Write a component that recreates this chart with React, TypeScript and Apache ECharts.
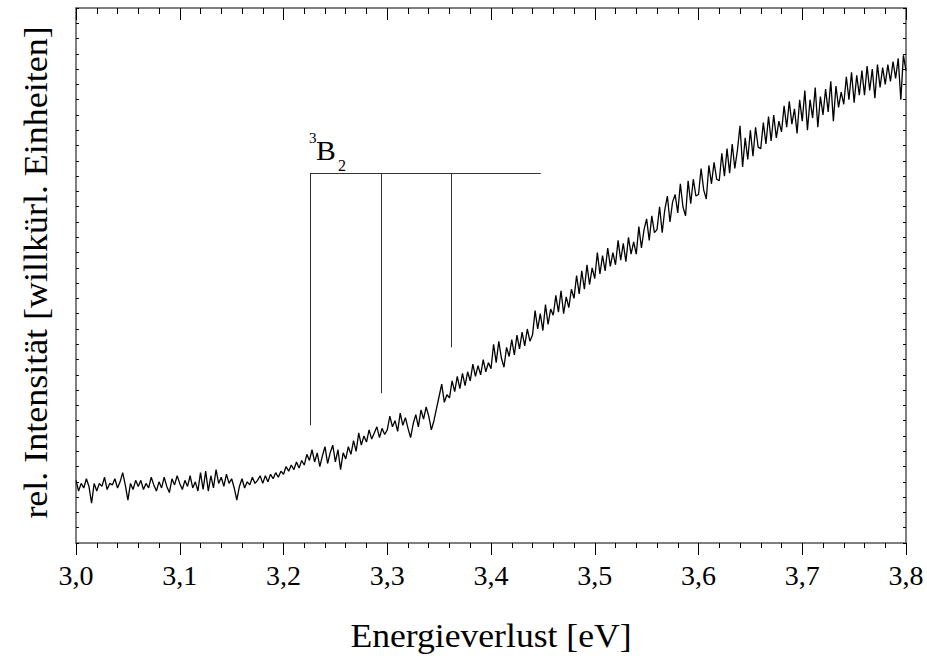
import React, { useEffect, useRef } from "react";
import * as echarts from "echarts";

// Spectrum sampled every 0.0025 eV from 3.00 eV to 3.80 eV
const energyStart = 3.0;
const energyStep = 0.0025;
const intensity: number[] = [
  4.1, 3.4, 3.9, 3.6, 4.2, 3.7, 2.6, 3.9,
  3.4, 3.9, 3.7, 4.3, 3.5, 3.9, 3.8, 4.2,
  3.6, 4.0, 4.6, 3.8, 2.8, 3.9, 3.5, 4.1,
  3.7, 4.1, 3.5, 3.9, 3.6, 4.3, 3.8, 3.4,
  4.0, 3.6, 4.3, 3.7, 3.3, 4.2, 3.8, 4.4,
  3.9, 3.5, 4.1, 3.7, 4.4, 3.6, 4.0, 3.4,
  4.6, 3.5, 4.7, 3.4, 4.4, 3.6, 4.8, 3.9,
  4.3, 3.7, 4.5, 3.9, 4.2, 3.6, 2.8, 3.7,
  4.2, 3.6, 4.0, 3.8, 4.3, 3.9, 4.1, 4.4,
  3.9, 4.4, 4.0, 4.5, 4.2, 4.6, 4.3, 4.7,
  4.5, 5.0, 4.7, 5.1, 4.8, 5.3, 4.9, 5.4,
  5.1, 5.8, 5.4, 6.1, 5.3, 5.9, 5.0, 5.7,
  6.3, 5.2, 5.9, 6.4, 5.3, 6.1, 4.8, 5.9,
  5.5, 6.3, 5.8, 6.7, 6.0, 7.2, 6.4, 7.0,
  6.6, 7.4, 6.8, 7.2, 7.6, 6.9, 7.5, 7.1,
  7.4, 8.3, 7.6, 8.0, 7.3, 8.5, 7.7, 8.2,
  7.5, 6.9, 7.8, 8.4, 7.6, 8.7, 8.1, 8.9,
  8.3, 7.4, 8.0, 8.8, 9.6, 10.4, 9.2, 9.7,
  9.5, 10.6, 9.9, 10.9, 10.1, 11.1, 10.3, 11.2,
  10.6, 11.7, 10.9, 11.6, 11.0, 12.0, 11.2, 11.8,
  11.4, 13.0, 11.8, 13.2, 12.1, 11.5, 12.8, 12.2,
  13.3, 12.3, 13.6, 12.7, 13.8, 12.9, 14.0, 13.2,
  13.6, 15.2, 14.0, 15.0, 13.9, 15.6, 14.3, 15.3,
  14.9, 16.2, 15.1, 16.5, 15.0, 16.1, 15.4, 16.6,
  16.0, 17.5, 16.3, 17.8, 16.6, 18.2, 16.9, 18.0,
  17.3, 19.0, 17.6, 18.8, 17.8, 19.3, 18.1, 19.0,
  18.2, 19.8, 18.5, 19.6, 18.4, 20.0, 18.9, 19.7,
  18.9, 20.7, 19.3, 20.5, 21.2, 19.8, 21.4, 20.3,
  20.5, 22.0, 20.3, 21.8, 22.7, 21.0, 22.3, 22.8,
  21.6, 23.5, 22.0, 21.4, 23.7, 22.2, 23.8, 22.7,
  22.8, 24.5, 23.1, 22.5, 24.7, 23.5, 24.9, 23.8,
  23.7, 25.5, 24.0, 25.8, 24.2, 26.1, 24.5, 25.7,
  27.3, 24.6, 26.5, 25.1, 27.0, 25.3, 27.2, 25.9,
  25.8, 27.5, 26.1, 27.9, 26.3, 28.0, 26.5, 27.6,
  26.9, 28.6, 27.2, 28.9, 27.4, 28.4, 26.8, 29.0,
  27.6, 29.6, 27.0, 29.0, 27.8, 29.8, 27.2, 29.2,
  28.0, 29.7, 28.2, 30.2, 27.6, 29.9, 28.5, 29.5,
  28.7, 30.5, 29.0, 30.8, 28.8, 30.6, 29.3, 30.9,
  29.3, 31.2, 29.6, 31.0, 29.1, 31.3, 29.8, 31.1,
  30.0, 31.3, 30.2, 31.5, 30.4, 31.7, 29.0, 31.9,
  30.9,
];

const xMin = 3.0;
const xMax = 3.8;
const xInterval = 0.1;
const yMin = 0;
const yMax = 35;
const yInterval = 1;

// 3B2 annotation: vertical line positions [energy, lower intensity], common top level
const annotationVerticals: [number, number][] = [
  [3.2255, 7.7],
  [3.294, 9.8],
  [3.362, 12.8],
];
const annotationTop = 24.2;
const annotationEnd = 3.448;
const annotationSup = "3";
const annotationMain = "B";
const annotationSub = "2";

const xAxisTitle = "Energieverlust [eV]";
const yAxisTitle = "rel. Intensität [willkürl. Einheiten]";

const FONT = "'Liberation Serif', 'Times New Roman', serif";

export default function App() {
  const ref = useRef<HTMLDivElement>(null);

  useEffect(() => {
    if (!ref.current) return;
    const chart = echarts.init(ref.current, null, { renderer: "svg" });
    const data = intensity.map((v, i) => [
      +(energyStart + i * energyStep).toFixed(4),
      v,
    ]);

    const markLines: any[] = [
      [
        { coord: [annotationVerticals[0][0], annotationTop] },
        { coord: [annotationEnd, annotationTop] },
      ],
      ...annotationVerticals.map(([x, y]) => [
        { coord: [x, y] },
        { coord: [x, annotationTop] },
      ]),
    ];

    const frameLine = { show: true, onZero: false, lineStyle: { color: "#555", width: 1.5 } };

    chart.setOption({
      animation: false,
      backgroundColor: "#fff",
      grid: { left: 76, right: 21, top: 8, bottom: 113, containLabel: false },
      xAxis: [
        {
          type: "value",
          position: "bottom",
          min: xMin,
          max: xMax,
          interval: xInterval,
          axisLine: frameLine,
          axisTick: { show: true, inside: false, length: 12, lineStyle: { color: "#000", width: 1 } },
          minorTick: { show: true, splitNumber: 5, length: 5, lineStyle: { color: "#000", width: 1 } },
          splitLine: { show: false },
          axisLabel: {
            show: true,
            margin: 18,
            fontFamily: FONT,
            fontSize: 28,
            color: "#000",
            formatter: (v: number) => v.toFixed(1).replace(".", ","),
          },
        },
        {
          type: "value",
          position: "top",
          min: xMin,
          max: xMax,
          interval: xInterval,
          axisLine: frameLine,
          axisTick: { show: true, inside: true, length: 12, lineStyle: { color: "#000", width: 1 } },
          minorTick: { show: true, splitNumber: 5, length: 6, lineStyle: { color: "#000", width: 1 } },
          splitLine: { show: false },
          axisLabel: { show: false },
        },
      ],
      yAxis: [
        {
          type: "value",
          position: "left",
          min: yMin,
          max: yMax,
          interval: yInterval,
          axisLine: frameLine,
          axisTick: { show: true, inside: true, length: 3, lineStyle: { color: "#000", width: 1 } },
          splitLine: { show: false },
          axisLabel: { show: false },
        },
        {
          type: "value",
          position: "right",
          min: yMin,
          max: yMax,
          interval: yInterval,
          axisLine: frameLine,
          axisTick: { show: true, inside: true, length: 3, lineStyle: { color: "#000", width: 1 } },
          splitLine: { show: false },
          axisLabel: { show: false },
        },
      ],
      series: [
        {
          type: "line",
          xAxisIndex: 0,
          yAxisIndex: 0,
          data,
          showSymbol: false,
          symbol: "none",
          lineStyle: { color: "#000", width: 1.3 },
          markLine: {
            silent: true,
            symbol: "none",
            label: { show: false },
            lineStyle: { color: "#333", width: 1, type: "solid" },
            data: markLines,
          },
        },
      ],
    });

    const p = chart.convertToPixel({ xAxisIndex: 0, yAxisIndex: 0 }, [
      annotationVerticals[0][0],
      annotationTop,
    ]) as number[];
    const gridLeft = 76;
    const gridRight = 927 - 21;
    const gridTop = 8;
    const gridBottom = 656 - 113;

    const txt = (text: string, size: number, align = "left") => ({
      text,
      fontFamily: FONT,
      fontSize: size,
      fontWeight: "normal",
      fill: "#000",
      verticalAlign: "middle",
      align,
    });

    chart.setOption({
      graphic: [
        { type: "text", x: p[0] - 1, y: p[1] - 35, style: txt(annotationSup, 15) },
        { type: "text", x: p[0] + 6, y: p[1] - 23, scaleX: 1.06, style: txt(annotationMain, 28) },
        { type: "text", x: p[0] + 28, y: p[1] - 7.5, style: txt(annotationSub, 16) },
        {
          type: "text",
          x: (gridLeft + gridRight) / 2,
          y: gridBottom + 92,
          scaleX: 1.08,
          style: txt(xAxisTitle, 33, "center"),
        },
        {
          type: "text",
          x: 36,
          y: (gridTop + gridBottom) / 2 - 3,
          rotation: Math.PI / 2,
          scaleX: 1.09,
          style: txt(yAxisTitle, 33, "center"),
        },
      ],
    });

    return () => chart.dispose();
  }, []);

  return (
    <div
      ref={ref}
      style={{ position: "fixed", left: 0, top: 0, width: 927, height: 656, background: "#fff" }}
    />
  );
}
